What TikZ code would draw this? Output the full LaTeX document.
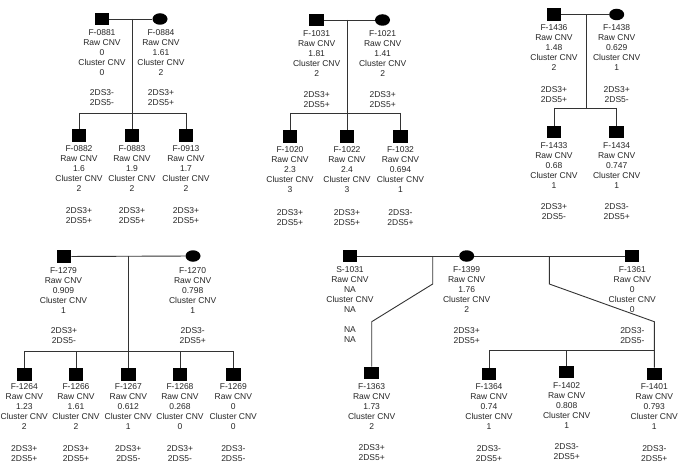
\documentclass[tikz,border=0pt]{standalone}
\usepackage{fontspec}
\setmainfont{Liberation Sans}
\usetikzlibrary{shapes.geometric}
\newcommand{\pinfo}[3]{#1\\Raw CNV\\#2\\Cluster CNV\\#3}
\begin{document}
\begin{tikzpicture}[x=1pt,y=-1pt,
  male/.style={rectangle,fill=black,minimum width=14.5pt,minimum height=12.5pt,inner sep=0pt},
  female/.style={ellipse,fill=black,minimum width=15pt,minimum height=11.5pt,inner sep=0pt},
  lbl/.style={anchor=north,yshift=6.1pt,inner sep=0pt,align=center,text=black!85,font=\fontsize{8.5}{10}\selectfont},
  ln/.style={draw=black!80,line width=0.9pt}]
\useasboundingbox (0,0) rectangle (685,476);
\fill[white] (0,0) rectangle (685,476);

% ---------- Panel 1 ----------
\node[male] (a1) at (102,19) {};
\node[female] (a2) at (160,19) {};
\coordinate (aj) at (132,19);
\coordinate (as) at (132,113);
\coordinate (aL) at (79,113);
\coordinate (aR) at (186,113);
\node[male] (a3) at (79,135.5) {};
\node[male] (a4) at (132,135.5) {};
\node[male] (a5) at (186,135.5) {};
\draw[ln] (a1) -- (a2);
\draw[ln] (aj) -- (as);
\draw[ln] (aL) -- (aR);
\draw[ln] (aL) -- (a3.north);
\draw[ln] (as) -- (a4.north);
\draw[ln] (aR) -- (a5.north);
\node[lbl] (ta1) at (102,35) {\pinfo{F-0881}{0}{0}};
\node[lbl] (ta2) at (161,35) {\pinfo{F-0884}{1.61}{2}};
\node[lbl] (ga1) at (102,95) {2DS3-\\2DS5-};
\node[lbl] (ga2) at (161,95) {2DS3+\\2DS5+};
\node[lbl] (ta3) at (79,151) {\pinfo{F-0882}{1.6}{2}};
\node[lbl] (ta4) at (132,151) {\pinfo{F-0883}{1.9}{2}};
\node[lbl] (ta5) at (186,151) {\pinfo{F-0913}{1.7}{2}};
\node[lbl] (ga3) at (79,213) {2DS3+\\2DS5+};
\node[lbl] (ga4) at (132,213) {2DS3+\\2DS5+};
\node[lbl] (ga5) at (186,213) {2DS3+\\2DS5+};

% ---------- Panel 2 ----------
\node[male] (b1) at (316.5,20) {};
\node[female] (b2) at (382.5,20) {};
\coordinate (bj) at (347,20);
\coordinate (bs) at (347,113);
\coordinate (bL) at (290,113);
\coordinate (bR) at (400.5,113);
\node[male] (b3) at (290,136.7) {};
\node[male] (b4) at (347,136.7) {};
\node[male] (b5) at (400.5,136.7) {};
\draw[ln] (b1) -- (b2);
\draw[ln] (bj) -- (bs);
\draw[ln] (bL) -- (bR);
\draw[ln] (bL) -- (b3.north);
\draw[ln] (bs) -- (b4.north);
\draw[ln] (bR) -- (b5.north);
\node[lbl] (tb1) at (316.7,36) {\pinfo{F-1031}{1.81}{2}};
\node[lbl] (tb2) at (382.7,36) {\pinfo{F-1021}{1.41}{2}};
\node[lbl] (gb1) at (316.7,97) {2DS3+\\2DS5+};
\node[lbl] (gb2) at (382.7,97) {2DS3+\\2DS5+};
\node[lbl] (tb3) at (290,152) {\pinfo{F-1020}{2.3}{3}};
\node[lbl] (tb4) at (347,152) {\pinfo{F-1022}{2.4}{3}};
\node[lbl] (tb5) at (400.5,152) {\pinfo{F-1032}{0.694}{1}};
\node[lbl] (gb3) at (290,215) {2DS3+\\2DS5+};
\node[lbl] (gb4) at (347,215) {2DS3+\\2DS5+};
\node[lbl] (gb5) at (400.5,215) {2DS3-\\2DS5+};

% ---------- Panel 3 ----------
\node[male] (c1) at (554,14.5) {};
\node[female] (c2) at (616.7,14.5) {};
\coordinate (cj) at (586.7,14.5);
\coordinate (cs) at (586.7,108);
\coordinate (cL) at (554,108);
\coordinate (cR) at (616.7,108);
\node[male] (c3) at (554,132) {};
\node[male] (c4) at (616.7,132) {};
\draw[ln] (c1) -- (c2);
\draw[ln] (cj) -- (cs);
\draw[ln] (cL) -- (cR);
\draw[ln] (cL) -- (c3.north);
\draw[ln] (cR) -- (c4.north);
\node[lbl] (tc1) at (554,30) {\pinfo{F-1436}{1.48}{2}};
\node[lbl] (tc2) at (616.7,30) {\pinfo{F-1438}{0.629}{1}};
\node[lbl] (gc1) at (554,92) {2DS3+\\2DS5+};
\node[lbl] (gc2) at (616.7,92) {2DS3+\\2DS5-};
\node[lbl] (tc3) at (554,148) {\pinfo{F-1433}{0.68}{1}};
\node[lbl] (tc4) at (616.7,148) {\pinfo{F-1434}{0.747}{1}};
\node[lbl] (gc3) at (554,209) {2DS3+\\2DS5-};
\node[lbl] (gc4) at (616.7,209) {2DS3-\\2DS5+};

% ---------- Panel 4 ----------
\node[male] (d1) at (64,256.5) {};
\node[female] (d2) at (193,256) {};
\coordinate (dj) at (128.3,256);
\coordinate (ds) at (128.3,351);
\coordinate (dL) at (24.3,351);
\coordinate (dR) at (233.3,351);
\coordinate (d4t) at (76,351);
\coordinate (d6t) at (180,351);
\node[male] (d3) at (24.3,374.5) {};
\node[male] (d4) at (76,374.5) {};
\node[male] (d5) at (128.3,374.5) {};
\node[male] (d6) at (180,374.5) {};
\node[male] (d7) at (233.3,374.5) {};
\draw[ln] (d1) -- (d2);
\draw[ln] (dj) -- (ds);
\draw[ln] (dL) -- (dR);
\draw[ln] (dL) -- (d3.north);
\draw[ln] (d4t) -- (d4.north);
\draw[ln] (ds) -- (d5.north);
\draw[ln] (d6t) -- (d6.north);
\draw[ln] (dR) -- (d7.north);
\node[lbl] (td1) at (63.5,273) {\pinfo{F-1279}{0.909}{1}};
\node[lbl] (td2) at (192.7,273) {\pinfo{F-1270}{0.798}{1}};
\node[lbl] (gd1) at (64,333.7) {2DS3+\\2DS5-};
\node[lbl] (gd2) at (192.7,333.7) {2DS3-\\2DS5+};
\node[lbl] (td3) at (24.3,389.7) {\pinfo{F-1264}{1.23}{2}};
\node[lbl] (td4) at (76,389.7) {\pinfo{F-1266}{1.61}{2}};
\node[lbl] (td5) at (128.3,389.7) {\pinfo{F-1267}{0.612}{1}};
\node[lbl] (td6) at (180,389.7) {\pinfo{F-1268}{0.268}{0}};
\node[lbl] (td7) at (233.3,389.7) {\pinfo{F-1269}{0}{0}};
\node[lbl] (gd3) at (24.3,451) {2DS3+\\2DS5+};
\node[lbl] (gd4) at (76,451) {2DS3+\\2DS5+};
\node[lbl] (gd5) at (128.3,451) {2DS3+\\2DS5-};
\node[lbl] (gd6) at (180,451) {2DS3+\\2DS5-};
\node[lbl] (gd7) at (233.3,451) {2DS3-\\2DS5-};

% ---------- Panel 5 ----------
\node[male] (e1) at (350,256) {};
\node[female] (e2) at (466.7,256) {};
\node[male] (e3) at (632,256) {};
\draw[ln] (e1) -- (e2);
\draw[ln] (e2) -- (e3);
\coordinate (ej1) at (432.7,256);
\coordinate (ek1) at (432.7,284);
\coordinate (el1) at (371.7,321.7);
\node[male] (f1) at (371.7,373) {};
\draw[ln] (ej1) -- (ek1) -- (el1) -- (f1.north);
\coordinate (ej2) at (549.3,256);
\coordinate (ek2) at (549.3,284);
\coordinate (el2) at (654.3,321.7);
\coordinate (es) at (654.3,350);
\coordinate (eL) at (489,350);
\coordinate (eM) at (566.7,350);
\node[male] (f2) at (489,374) {};
\node[male] (f3) at (566.7,372) {};
\node[male] (f4) at (654.3,374) {};
\draw[ln] (ej2) -- (ek2) -- (el2) -- (f4.north);
\draw[ln] (eL) -- (es);
\draw[ln] (eL) -- (f2.north);
\draw[ln] (eM) -- (f3.north);
\node[lbl] (te1) at (350,272) {S-1031\\Raw CNV\\NA\\Cluster CNV\\NA};
\node[lbl] (te2) at (466.7,272) {\pinfo{F-1399}{1.76}{2}};
\node[lbl] (te3) at (632.3,272) {\pinfo{F-1361}{0}{0}};
\node[lbl] (ge1) at (350,333) {NA\\NA};
\node[lbl] (ge2) at (466.7,333) {2DS3+\\2DS5+};
\node[lbl] (ge3) at (632.3,333) {2DS3-\\2DS5-};
\node[lbl] (tf1) at (371.7,389.7) {\pinfo{F-1363}{1.73}{2}};
\node[lbl] (tf2) at (489,389) {\pinfo{F-1364}{0.74}{1}};
\node[lbl] (tf3) at (566.7,388) {\pinfo{F-1402}{0.808}{1}};
\node[lbl] (tf4) at (654.3,389) {\pinfo{F-1401}{0.793}{1}};
\node[lbl] (gf1) at (371.7,450.3) {2DS3+\\2DS5+};
\node[lbl] (gf2) at (489,451) {2DS3-\\2DS5+};
\node[lbl] (gf3) at (566.7,449.7) {2DS3-\\2DS5+};
\node[lbl] (gf4) at (654.3,451) {2DS3-\\2DS5+};
\end{tikzpicture}
\end{document}
